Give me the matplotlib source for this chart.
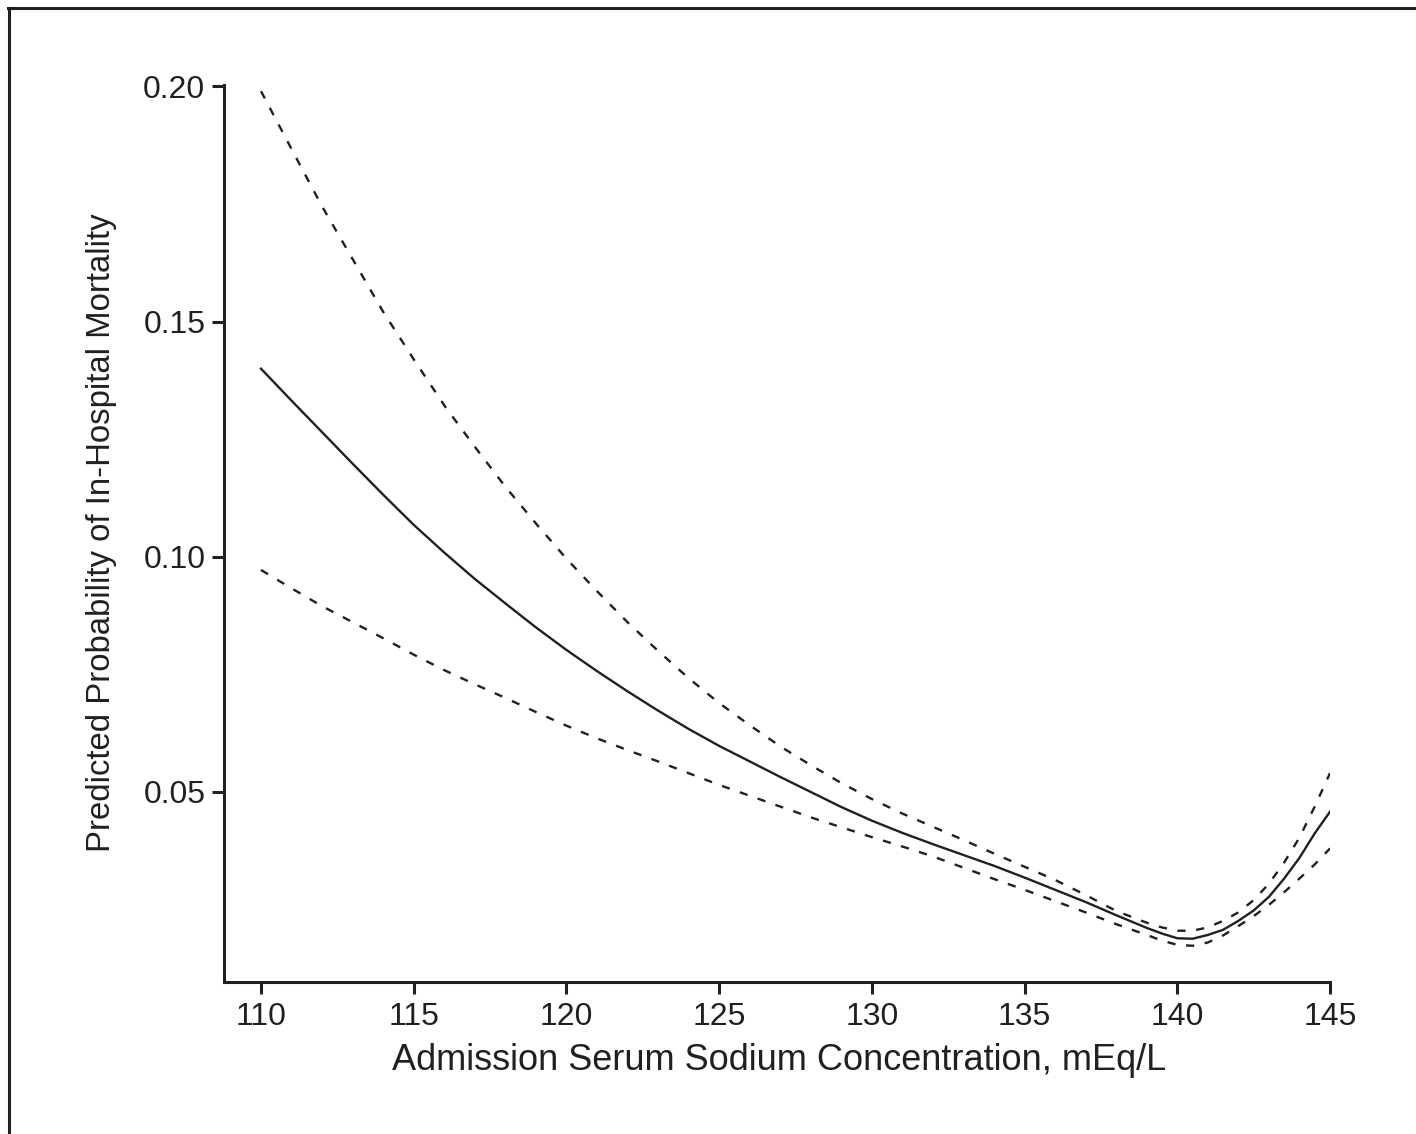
import matplotlib
matplotlib.use("Agg")
import matplotlib.pyplot as plt
from matplotlib.lines import Line2D

plt.rcParams['font.family'] = ['Liberation Sans Narrow', 'Liberation Sans', 'DejaVu Sans']

sodium = [110, 111, 112, 113, 114, 115, 116, 117, 118, 119, 120, 121, 122, 123, 124,
          125, 126, 127, 128, 129, 130, 131, 132, 133, 134, 135, 136, 137, 138, 139,
          139.5, 140, 140.5, 141, 141.5, 142, 142.5, 143, 143.5, 144, 144.5, 145]

predicted = [0.1400, 0.1332, 0.1265, 0.1198, 0.1132, 0.1068, 0.1009, 0.0953, 0.0901, 0.0850,
             0.0802, 0.0757, 0.0714, 0.0673, 0.0634, 0.0598, 0.0565, 0.0532, 0.0500, 0.0468,
             0.0439, 0.0413, 0.0389, 0.0366, 0.0343, 0.0318, 0.0292, 0.0266, 0.0238, 0.0211,
             0.0199, 0.0189, 0.0188, 0.0196, 0.0207, 0.0226, 0.0248, 0.0277, 0.0316, 0.0360,
             0.0412, 0.0458]

upper_ci = [0.1990, 0.1867, 0.1745, 0.1633, 0.1521, 0.1420, 0.1322, 0.1234, 0.1149, 0.1071,
            0.0996, 0.0927, 0.0861, 0.0800, 0.0742, 0.0689, 0.0642, 0.0597, 0.0557, 0.0519,
            0.0485, 0.0454, 0.0426, 0.0398, 0.0369, 0.0341, 0.0313, 0.0281, 0.0247, 0.0222,
            0.0212, 0.0205, 0.0205, 0.0212, 0.0226, 0.0244, 0.0270, 0.0305, 0.0350, 0.0403,
            0.0469, 0.0540]

lower_ci = [0.0972, 0.0933, 0.0895, 0.0861, 0.0827, 0.0792, 0.0759, 0.0729, 0.0700, 0.0670,
            0.0641, 0.0614, 0.0589, 0.0565, 0.0540, 0.0515, 0.0492, 0.0469, 0.0446, 0.0425,
            0.0404, 0.0384, 0.0363, 0.0339, 0.0315, 0.0292, 0.0268, 0.0244, 0.0219, 0.0196,
            0.0184, 0.0175, 0.0173, 0.0180, 0.0195, 0.0215, 0.0236, 0.0260, 0.0287, 0.0316,
            0.0346, 0.0380]

x_ticks = [110, 115, 120, 125, 130, 135, 140, 145]
y_ticks = [0.05, 0.10, 0.15, 0.20]
y_ticklabels = ['0.05', '0.10', '0.15', '0.20']
x_label = 'Admission Serum Sodium Concentration, mEq/L'
y_label = 'Predicted Probability of In-Hospital Mortality'

INK = '#231f20'
W, H = 1416, 1134
fig = plt.figure(figsize=(W / 100, H / 100), dpi=100)
ax = fig.add_axes([224 / W, 1 - 982 / H, (1330 - 224) / W, (982 - 85) / H])

ax.plot(sodium, predicted, color=INK, lw=1.7, solid_joinstyle='round')
for series in (upper_ci, lower_ci):
    ln, = ax.plot(sodium, series, color=INK, lw=1.7)
    ln.set_dashes((3.5, 4.5))

ax.set_xlim(108.79, 145.0)
ax.set_ylim(0.0096, 0.2003)
ax.set_xticks(x_ticks)
ax.set_xticklabels([str(t) for t in x_ticks])
ax.set_yticks(y_ticks)
ax.set_yticklabels(y_ticklabels)

for s in ('top', 'right'):
    ax.spines[s].set_visible(False)
for s in ('left', 'bottom'):
    ax.spines[s].set_linewidth(2.2)
    ax.spines[s].set_color(INK)
    ax.spines[s].set_capstyle('projecting')

ax.tick_params(axis='both', direction='out', length=8.5, width=2.2, color=INK,
               labelcolor=INK, labelsize=23)
ax.tick_params(axis='x', pad=6)
ax.tick_params(axis='y', pad=5)

fig.text(779 / W, 1 - 1060 / H, x_label, ha='center', va='center', fontsize=26, color=INK)
fig.text(102 / W, 1 - 533 / H, y_label, ha='center', va='center', rotation=90,
         fontsize=23.7, color=INK)

# partial frame around the figure
fig.add_artist(Line2D([8 / W, 1], [1 - 8 / H, 1 - 8 / H], transform=fig.transFigure,
                      color=INK, lw=2.2))
fig.add_artist(Line2D([9 / W, 9 / W], [0, 1 - 8 / H], transform=fig.transFigure,
                      color=INK, lw=2.2))

fig.savefig('out.png', dpi=100, facecolor='white')
